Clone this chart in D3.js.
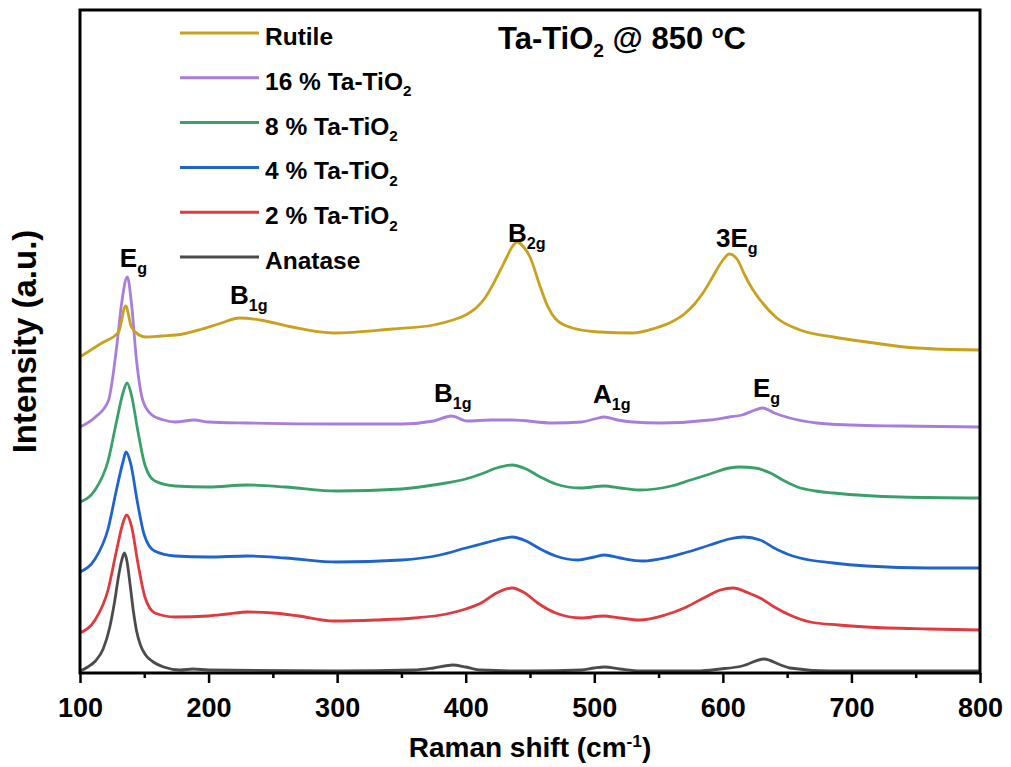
<!DOCTYPE html>
<html>
<head>
<meta charset="utf-8">
<script src="https://cdn.jsdelivr.net/npm/d3@7"></script>
<style>
  body { margin: 0; background: #fff; }
  svg text { font-family: "Liberation Sans", Arial, Helvetica, sans-serif; font-weight: bold; fill: #000; }
</style>
</head>
<body>
<svg id="chart" width="1011" height="767"></svg>
<script>
// Raman spectra, stacked (wavenumber cm-1, intensity a.u. incl. offset)
const rutile = [[100,316],[117,330],[130,341],[135.5,367],[140,346],[146,338],[151,336],[163,337],[180,339],[195,344],[210,350],[224,355],[240,353],[265,346],[297,340],[343,344],[375,348],[390,353],[400,358],[408,365],[415,375],[421,388],[427,403],[432,416],[436,426],[440,431],[445,426],[450,416],[458,386],[464,366],[470,354],[483,345],[504,341],[530,340],[548,345],[560,351],[570,359],[578,369],[585,381],[592,396],[599,411],[605,419],[611,414],[617,398],[623,384],[629,373],[642,355],[660,343],[686,336],[712,331],[751,325],[800,323]];
const ta16 = [[100,246],[112,256],[122,272],[128.5,326],[132.4,370],[136.8,396],[140,370],[144,312],[149,272],[156,258],[165,253],[174,251],[189,253],[200,251],[230,250],[300,249],[350,249],[375,252],[389,257],[401,252],[420,253],[436,253],[468,250],[490,251],[500,254],[508,256],[518,253],[530,251],[551,250],[590,253],[605,256],[615,258],[625,263],[631,265],[640,260],[652,255],[673,250],[700,248],[738,247],[800,246]];
const ta8 = [[100,171],[111.7,183],[121.8,212],[128.5,252],[133.4,280],[136.6,290],[140,278],[145,242],[150.5,208],[158.3,192],[174,187],[200,186],[230,188],[260,186],[300,182],[350,184],[380,189],[400,194],[412,199],[424,205],[436,208],[447,204],[458,196],[470,189],[489,185],[508,187],[520,185],[535,183],[560,187],[575,193],[590,199],[605,205],[613,206],[625,205],[637,200],[648,192],[658,186],[672,182],[686,180],[738,176],[800,175]];
const ta4 = [[100,101],[111.7,114],[121.8,144],[128.5,184],[133.4,211],[135.8,221],[139.5,209],[144.5,172],[150,138],[158,122],[174,117],[200,116],[230,117],[260,115],[300,111],[350,113],[380,118],[400,125],[412,129],[424,133],[436,136],[447,132],[458,124],[470,117],[487,113],[500,116],[508,118],[520,115],[538,112],[555,115],[570,120],[590,128],[605,134],[616,136],[629,133],[640,125],[650,119],[660,115],[686,110],[712,107],[760,105],[800,105]];
const ta2 = [[100,40],[111.7,53],[121.8,83],[128.5,123],[133.4,150],[136.3,158],[140.2,146],[145,110],[150.5,76],[158.3,60],[174,56],[200,57],[215,59],[230,61],[250,60],[270,57],[297,52],[330,53],[360,55],[385,59],[400,64],[412,70],[424,80],[436,85],[446,80],[456,70],[470,60],[490,55],[507,57],[520,55],[535,53],[555,58],[570,65],[585,75],[598,83],[608,85],[620,80],[629,75],[640,66],[652,58],[668,51],[690,48],[712,46],[760,44],[800,43]];
const anatase = [[100,2],[106,6],[112,12],[118,24],[123,45],[127,72],[130,97],[132.5,113],[134.5,120],[136.5,112],[139,88],[141.5,62],[144,42],[147,28],[151,18],[157,11],[165,6],[178,3],[188,4],[200,3],[300,2],[360,3],[375,5],[390,8],[400,6],[412,3],[450,2],[490,3],[500,5],[508,6],[520,4],[536,2],[580,2],[598,4],[615,7],[632,14],[645,8],[652,5],[683,2],[750,2],[800,2]];

const seriesData = [rutile, ta16, ta8, ta4, ta2, anatase];
const seriesColors = ["#C9A11D", "#A97DDC", "#39A06A", "#1F64CC", "#E0393F", "#4B4B4B"];
// legend labels: [text, subscript]
const seriesLabels = [["Rutile", ""], ["16 % Ta-TiO", "2"], ["8 % Ta-TiO", "2"], ["4 % Ta-TiO", "2"], ["2 % Ta-TiO", "2"], ["Anatase", ""]];

const xMajorTicks = [100, 200, 300, 400, 500, 600, 700, 800];
const xMinorTicks = [150, 250, 350, 450, 550, 650, 750];

// peak assignments: [wavenumber, intensity, main, subscript]
const peakLabels = [
  [131, 406, "E", "g"],
  [216.7, 369, "B", "1g"],
  [432.9, 431, "B", "2g"],
  [594.7, 426, "3E", "g"],
  [375.3, 271, "B", "1g"],
  [499, 270, "A", "1g"],
  [623.4, 276, "E", "g"]
];

const margin = { top: 10, right: 31, bottom: 94, left: 80 };
const W = 1011, H = 767;
const w = W - margin.left - margin.right;
const h = H - margin.top - margin.bottom;

const svg = d3.select('#chart');
const g = svg.append('g').attr('transform', `translate(${margin.left},${margin.top})`);

const x = d3.scaleLinear().domain([100, 800]).range([0, w]);
const y = d3.scaleLinear().domain([0, 663]).range([h, 0]);

g.append('defs').append('clipPath').attr('id', 'plot-clip')
  .append('rect').attr('width', w).attr('height', h);

// spectra
const line = d3.line()
  .x(d => x(d[0]))
  .y(d => y(d[1]))
  .curve(d3.curveMonotoneX);

g.append('g').attr('clip-path', 'url(#plot-clip)')
  .selectAll('path')
  .data(seriesData.slice().reverse())
  .enter()
  .append('path')
  .attr('d', line)
  .attr('fill', 'none')
  .attr('stroke', (d, i) => seriesColors[seriesData.length - 1 - i])
  .attr('stroke-width', 2.8)
  .attr('stroke-linejoin', 'round');

// axes
const xAxis = g.append('g')
  .attr('transform', `translate(0,${h})`)
  .call(d3.axisBottom(x).tickValues(xMajorTicks).tickSize(10).tickPadding(15).tickFormat(d3.format('d')));
xAxis.select('.domain').remove();
xAxis.selectAll('line').attr('stroke', '#000').attr('stroke-width', 2.5);
xAxis.selectAll('text').style('font-size', '27px').attr('fill', '#000');

const xMinor = g.append('g')
  .attr('transform', `translate(0,${h})`)
  .call(d3.axisBottom(x).tickValues(xMinorTicks).tickSize(5).tickFormat(''));
xMinor.select('.domain').remove();
xMinor.selectAll('line').attr('stroke', '#000').attr('stroke-width', 2.5);

// helper for text with sub/superscripts
function richText(sel, parts, size) {
  let shift = 0;
  parts.forEach(p => {
    const [txt, kind] = p;
    if (!txt) return;
    const t = sel.append('tspan').text(txt);
    let target = 0;
    if (kind === 'sub') target = size * 0.27;
    if (kind === 'sup') target = -size * 0.36;
    if (kind) t.style('font-size', (size * 0.62) + 'px');
    if (target !== shift) t.attr('dy', target - shift);
    shift = target;
  });
}

// axis titles
const xTitle = svg.append('text')
  .attr('x', margin.left + w / 2).attr('y', 757)
  .attr('text-anchor', 'middle')
  .style('font-size', '28px');
richText(xTitle, [['Raman shift (cm'], ['-1', 'sup'], [')']], 28);

svg.append('text')
  .attr('transform', `translate(36,${margin.top + h / 2}) rotate(-90)`)
  .attr('text-anchor', 'middle')
  .style('font-size', '33px')
  .text('Intensity (a.u.)');

// title
const title = svg.append('text')
  .attr('x', 498).attr('y', 49)
  .style('font-size', '31px');
richText(title, [['Ta-TiO'], ['2', 'sub'], [' @ 850 '], ['o', 'sup'], ['C']], 31);

// legend
const legend = svg.append('g');
seriesLabels.forEach((lab, i) => {
  const ly = 33 + i * 44.8;
  legend.append('line')
    .attr('x1', 180).attr('x2', 259).attr('y1', ly).attr('y2', ly)
    .attr('stroke', seriesColors[i]).attr('stroke-width', 3);
  const t = legend.append('text')
    .attr('x', 265).attr('y', ly + 12)
    .style('font-size', '24.5px');
  richText(t, [[lab[0]], [lab[1], 'sub']], 24.5);
});

// peak labels
peakLabels.forEach(p => {
  const t = g.append('text')
    .attr('x', x(p[0])).attr('y', y(p[1]))
    .style('font-size', '26px');
  richText(t, [[p[2]], [p[3], 'sub']], 26);
});

// frame as a filled ring so it cannot be lost
const x0 = margin.left, x1 = margin.left + w, y0 = margin.top, y1 = margin.top + h, t2 = 1.5;
svg.append('path')
  .attr('fill-rule', 'evenodd')
  .attr('fill', '#000')
  .attr('d', `M${x0 - t2},${y0 - t2}H${x1 + t2}V${y1 + t2}H${x0 - t2}Z M${x0 + t2},${y0 + t2}V${y1 - t2}H${x1 - t2}V${y0 + t2}Z`);
</script>
</body>
</html>
